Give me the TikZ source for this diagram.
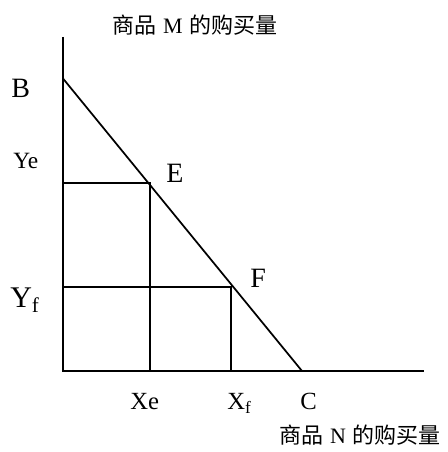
\documentclass[tikz,border=0pt]{standalone}
\usepackage{fontspec}
\setmainfont{Liberation Serif}
\newfontfamily\cjk{Noto Sans CJK SC}
\usetikzlibrary{positioning}

\begin{document}
\begin{tikzpicture}[
x=0.75pt,y=-0.75pt,
every node/.style={
inner sep=0pt,
anchor=base west
},
big/.style={font=\fontsize{21}{21}\selectfont},
mid/.style={font=\fontsize{18.5}{18.5}\selectfont},
small/.style={font=\fontsize{17.5}{17.5}\selectfont},
huge/.style={font=\fontsize{22.5}{22.5}\selectfont},
title/.style={font=\fontsize{16.5}{16.5}\selectfont},
line/.style={line width=1.3pt}
]

\useasboundingbox (0,0) rectangle (448,452);

\coordinate (O) at (63,371);
\coordinate (top) at (63,37);
\coordinate (right) at (424,371);
\coordinate (B) at (63,78.5);
\coordinate (C) at (302,371);
\coordinate (E) at (150,183);
\coordinate (F) at (231,287);

\draw[line] (top)--(O)--(right);
\draw[line] (B)--(C);
\draw[line] (E -| O)--(E)--(E |- O);
\draw[line] (F -| O)--(F)--(F |- O);

\node (ytitle) [title,anchor=base] at (195,34) {{\cjk 商品}\hspace{0.3em}M\hspace{0.3em}{\cjk 的购买量}};
\node (xtitle) [title,anchor=base] at (360,443) {{\cjk 商品}\hspace{0.3em}N\hspace{0.3em}{\cjk 的购买量}};

\node (Blbl) [big] at (11,98) {B};
\node (Yelbl) [small] at (13,169) {Ye};
\node (Yflbl) [huge] at (10,307) {Y\textsubscript{f}};
\node (Elbl) [big] at (166,182) {E};
\node (Flbl) [big] at (250,287) {F};
\node (Xelbl) [mid] at (130,409) {Xe};
\node (Xflbl) [mid] at (227,409) {X\textsubscript{f}};
\node (Clbl) [mid] at (300,409) {C};

\end{tikzpicture}
\end{document}
